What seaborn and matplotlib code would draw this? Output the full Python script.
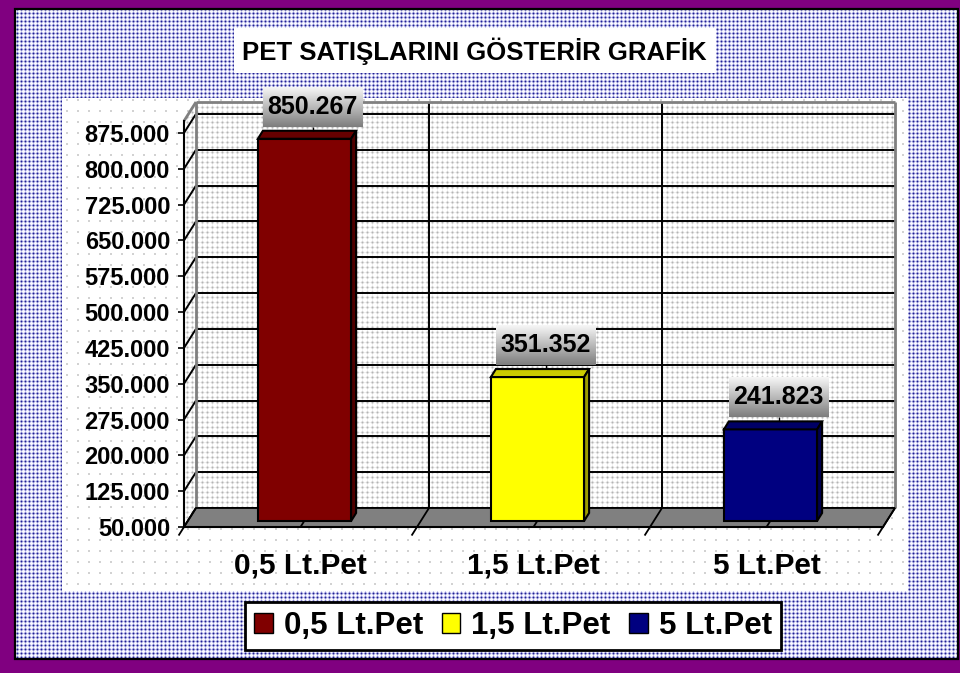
import numpy as np
import pandas as pd
import matplotlib
matplotlib.use("Agg")
import matplotlib.pyplot as plt
from matplotlib.patches import Polygon, Rectangle, Patch
from matplotlib.lines import Line2D
from matplotlib.transforms import IdentityTransform, Affine2D
import seaborn as sns

# ---- chart data ----
categories = ["0,5 Lt.Pet", "1,5 Lt.Pet", "5 Lt.Pet"]
sales = [850267, 351352, 241823]
bar_colors = ["#800000", "#FFFF00", "#000080"]
y_ticks = [50000, 125000, 200000, 275000, 350000, 425000,
           500000, 575000, 650000, 725000, 800000, 875000]
y_tick_labels = ["50.000", "125.000", "200.000", "275.000", "350.000", "425.000",
                 "500.000", "575.000", "650.000", "725.000", "800.000", "875.000"]
y_min, y_max = 50000, 900000
title = "PET SATIŞLARINI GÖSTERİR GRAFİK"

W, H, DPI = 960, 673, 100

plt.rcParams["font.family"] = ["Liberation Sans", "DejaVu Sans"]
plt.rcParams["font.weight"] = "bold"

fig = plt.figure(figsize=(W / DPI, H / DPI), dpi=DPI)
fig.patch.set_facecolor("#800080")

# ---- background canvas (pixel coordinates, origin top-left) ----
bg = fig.add_axes([0, 0, 1, 1], zorder=0)
bg.set_xlim(0, W)
bg.set_ylim(H, 0)
bg.axis("off")

yy, xx = np.mgrid[0:H, 0:W]


def rgb(c):
    return np.array(matplotlib.colors.to_rgb(c))


def dot_texture(period, cx, cy, shades):
    """Regular dot texture: shades indexed by manhattan distance from dot centre."""
    d = np.abs(xx % period - cx) + np.abs(yy % period - cy)
    d = np.minimum(d, len(shades) - 1)
    pal = np.array([rgb(s) for s in shades])
    return pal[d]


canvas = np.empty((H, W, 3))
canvas[:] = rgb("#800080")

navy_dots = dot_texture(4, 1, 1, ["#202092", "#8484ca", "#cecef0", "#fafaff"])
canvas[10:658, 16:957] = navy_dots[10:658, 16:957]

# plot area: white with sparse grey dots
sparse = np.ones((H, W, 3))
sparse[(xx % 11 < 2) & (yy % 11 < 2)] = rgb("#d2d2d2")
canvas[98:591, 62:908] = sparse[98:591, 62:908]

# title box
canvas[28:73, 234:716] = 1.0

bg.imshow(canvas, extent=(0, W, H, 0), interpolation="nearest", zorder=0)
bg.add_patch(Rectangle((15, 9), 943, 650, fill=False, ec="black", lw=1.6, zorder=1))
bg.text(474, 51, title, ha="center", va="center", fontsize=18.5,
        fontweight="bold", color="black", zorder=2)

# ---- main axes: front plane of the 3D box ----
x_left, x_right = 184, 883
y_floor, y_top = 527, 121
ax = fig.add_axes([x_left / W, 1 - y_floor / H,
                   (x_right - x_left) / W, (y_floor - y_top) / H], zorder=1)
ax.patch.set_visible(False)

df = pd.DataFrame({"Ürün": categories, "Satış": sales})
sns.barplot(data=df, x="Ürün", y="Satış", hue="Ürün", palette=bar_colors,
            width=0.4, saturation=1, edgecolor="black", linewidth=1.5,
            legend=False, ax=ax)
ax.set_xlim(-0.5, 2.5)
ax.set_ylim(y_min, y_max)
ax.set_xlabel("")
ax.set_ylabel("")
ax.set_yticks(y_ticks)
ax.set_yticklabels(y_tick_labels)
ax.set_xticks(range(len(categories)))
ax.set_xticklabels([])
ax.tick_params(axis="y", direction="out", length=4.5, width=1.2, pad=5.5,
               labelsize=17, colors="black")
ax.tick_params(axis="x", length=0)
for s in ("top", "right"):
    ax.spines[s].set_visible(False)
for s in ("left", "bottom"):
    ax.spines[s].set_color("black")
    ax.spines[s].set_linewidth(1.5)
ax.grid(False)

# category names on a common baseline below the floor
cat_tr = ax.transData + Affine2D().translate(0, -47)
for i, name in enumerate(categories):
    ax.text(i, y_min, name, transform=cat_tr, ha="center", va="baseline",
            fontsize=21.5, fontweight="bold", color="black", clip_on=False)

# depth offsets in display pixels (x right, y up)
BACK = (12, 19)
FRONT = (4, 6)
DEPTH = (5, 8)
BAR_BACK = (FRONT[0] + DEPTH[0], FRONT[1] + DEPTH[1])
ID = IdentityTransform()


def D(x, y, off=(0, 0)):
    px, py = ax.transData.transform((x, y))
    return (px + off[0], py + off[1])


def line(p, q, color="black", lw=1.4, z=0.5):
    ax.add_line(Line2D([p[0], q[0]], [p[1], q[1]], transform=ID, color=color,
                       lw=lw, clip_on=False, zorder=z, solid_capstyle="butt"))


x0, x1 = -0.5, 2.5

# wall texture (dense grey dots) clipped to back and left walls
wall_tex = dot_texture(5, 2, 2, ["#b4b4b4", "#d4d4d4", "#f0f0f0", "#ffffff"])
back_wall = [D(x0, y_min, BACK), D(x1, y_min, BACK), D(x1, y_max, BACK), D(x0, y_max, BACK)]
left_wall = [D(x0, y_min), D(x0, y_max), D(x0, y_max, BACK), D(x0, y_min, BACK)]
for poly in (back_wall, left_wall):
    im = bg.imshow(wall_tex, extent=(0, W, H, 0), interpolation="nearest", zorder=1)
    im.set_clip_path(Polygon(poly, closed=True, transform=ID))

# gridlines on back wall and left wall
for v in y_ticks:
    line(D(x0, v, BACK), D(x1, v, BACK))
    line(D(x0, v), D(x0, v, BACK))
for xb in (0.5, 1.5):
    line(D(xb, y_min, BACK), D(xb, y_max, BACK))

# wall edges
grey = "#808080"
line(D(x0, y_max, BACK), D(x1, y_max, BACK), grey, 2.0, 0.6)
line(D(x1, y_max, BACK), D(x1, y_min, BACK), grey, 2.0, 0.6)
line(D(x0, y_max), D(x0, y_max, BACK), grey, 2.0, 0.6)
line(D(x0, y_max, BACK), D(x0, y_min, BACK), grey, 2.0, 0.6)

# floor
floor = [D(x0, y_min), D(x1, y_min), D(x1, y_min, BACK), D(x0, y_min, BACK)]
ax.add_patch(Polygon(floor, closed=True, transform=ID, fc="#808080", ec="black",
                     lw=1.3, clip_on=False, zorder=0.8))
for xb in (x0, 0.5, 1.5, x1):
    p, q = D(xb, y_min, BACK), D(xb, y_min)
    ext = (q[0] + (q[0] - p[0]) * 0.45, q[1] + (q[1] - p[1]) * 0.45)
    line(p, ext, "black", 1.3, 0.9)
for xc in range(len(categories)):
    line(D(xc, y_min, BACK), D(xc, y_min), "black", 1.3, 0.9)

# ---- 3D bars: seaborn front faces rebased on the floor, plus top and side faces ----
bars = sorted(ax.patches[:len(sales)], key=lambda r: r.get_x())
for rect, value, color in zip(bars, sales, bar_colors):
    bx0 = rect.get_x()
    bx1 = bx0 + rect.get_width()
    rect.set_y(y_min)
    rect.set_height(value - y_min)
    rect.set_transform(ax.transData + Affine2D().translate(*FRONT))
    rect.set_clip_on(False)
    rect.set_zorder(2)
    base = rgb(color)
    top = [D(bx0, value, FRONT), D(bx1, value, FRONT), D(bx1, value, BAR_BACK), D(bx0, value, BAR_BACK)]
    side = [D(bx1, value, FRONT), D(bx1, y_min, FRONT), D(bx1, y_min, BAR_BACK), D(bx1, value, BAR_BACK)]
    ax.add_patch(Polygon(top, closed=True, transform=ID, fc=base * 0.8, ec="black",
                         lw=1.5, clip_on=False, zorder=2, joinstyle="miter"))
    ax.add_patch(Polygon(side, closed=True, transform=ID, fc=base * 0.62, ec="black",
                         lw=1.5, clip_on=False, zorder=2, joinstyle="miter"))

    # value label with grey gradient box
    cx, cy = D((bx0 + bx1) / 2, value, BAR_BACK)
    bw, bh = 100, 40
    bxl, byb = cx + 3 - bw / 2, cy + 4
    lab_ax = fig.add_axes([bxl / W, byb / H, bw / W, bh / H], zorder=3)
    grad = np.linspace(0, 1, 64)[:, None, None]
    grad_img = (1 - grad) * rgb("#f6f6f6") + grad * rgb("#7e7e7e")
    lab_ax.imshow(grad_img, aspect="auto", extent=(0, 1, 0, 1), interpolation="bilinear")
    lab_ax.axis("off")
    lab_ax.text(0.5, 0.5, f"{value:,}".replace(",", "."), ha="center", va="center",
                fontsize=18, fontweight="bold", color="black",
                transform=lab_ax.transAxes)
    line((cx + 3, byb), (cx + 3, cy), "black", 1.0, 2.5)

# ---- legend ----
handles = [Patch(facecolor=c, edgecolor="black", lw=1.0) for c in bar_colors]
leg = fig.legend(handles=handles, labels=categories, loc="center",
                 bbox_to_anchor=(513 / W, 1 - 626 / H), ncol=3, frameon=True,
                 fancybox=False, edgecolor="black", framealpha=1, facecolor="white",
                 fontsize=22.5, handlelength=0.6, handleheight=0.6,
                 handletextpad=0.35, columnspacing=0.6, borderpad=0.3,
                 borderaxespad=0)
leg.get_frame().set_linewidth(2)
for t in leg.get_texts():
    t.set_fontweight("bold")
leg.set_zorder(5)

fig.savefig("out.png", dpi=DPI)
